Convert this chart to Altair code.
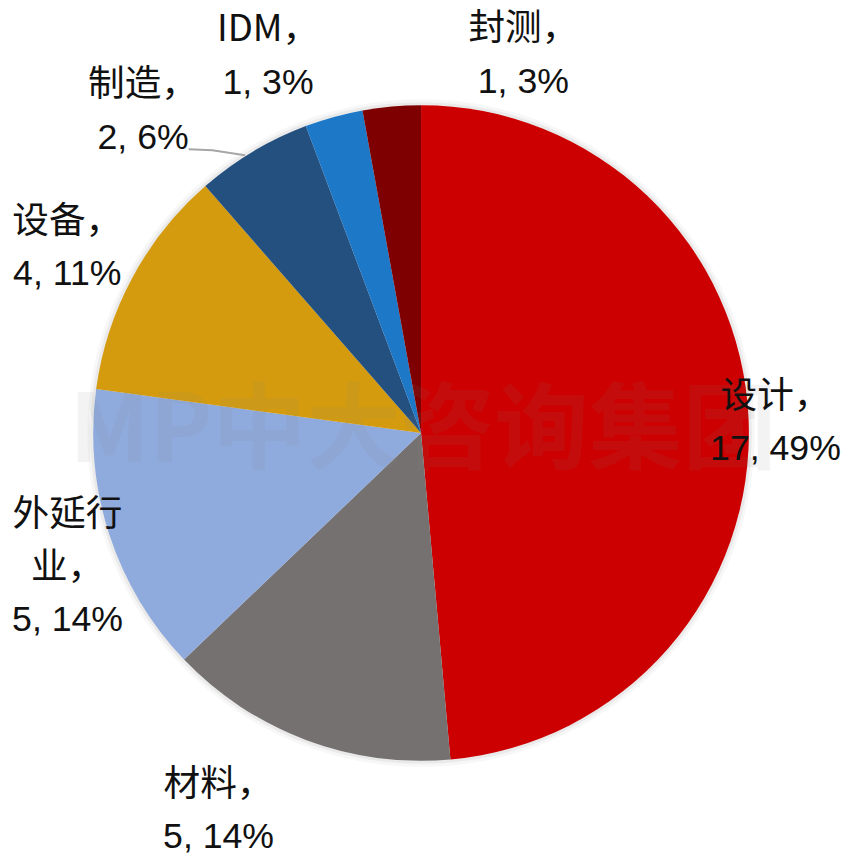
import math
import altair as alt
import pandas as pd

# ---- data -------------------------------------------------------------
NAMES = ["设计", "材料", "外延行业", "设备", "制造", "IDM", "封测"]
VALUES = [17, 5, 5, 4, 2, 1, 1]
COLORS = ["#CC0000", "#767171", "#8FAADC", "#D49B0E", "#245080", "#1E78C8", "#7F0000"]
NAME_LINES = [["设计，"], ["材料，"], ["外延行", "业，"], ["设备，"], ["制造，"], ["IDM，"], ["封测，"]]
WATERMARK = "MP中大咨询集团"

# ---- layout -----------------------------------------------------------
W, H = 841, 852
CX, CY = 417, 425
R = 331
LINE_H = 53
LABEL_NUDGE_DEG = [1.0, 7.6, -2.9, -0.7, -10.0, -6.7, 20.3]
LABEL_RADIUS = [358, 433, 382, 403, 429, 410, 395]
LEADER_FOR = "制造"

total = sum(VALUES)
slices = pd.DataFrame({"name": NAMES, "value": VALUES, "idx": list(range(len(NAMES)))})

rows = []
leader = []
cum = 0
for i, (n, v) in enumerate(zip(NAMES, VALUES)):
    mid = (cum + v / 2) / total * 360
    cum += v
    a = math.radians(mid + LABEL_NUDGE_DEG[i])
    r = LABEL_RADIUS[i]
    lx = CX + r * math.sin(a)
    ly = CY - r * math.cos(a)
    lines = [(t, "name") for t in NAME_LINES[i]] + [(f"{v}, {round(v / total * 100)}%", "value")]
    k = len(lines)
    for j, (t, kind) in enumerate(lines):
        rows.append(dict(text=t, kind=kind, x=lx, y=ly + (j - (k - 1) / 2) * LINE_H))
    if n == LEADER_FOR:
        ea = math.radians(mid - 1.5)
        ex, ey = CX + (R + 1) * math.sin(ea), CY - (R + 1) * math.cos(ea)
        sx, sy = lx + 46, ly + 38
        leader = [dict(o=0, x=sx, y=sy), dict(o=1, x=sx + 24, y=sy + 1), dict(o=2, x=ex, y=ey)]

labels = pd.DataFrame(rows)
leader_df = pd.DataFrame(leader)

shadow_df = pd.DataFrame({"value": [total]})
center = dict(x=alt.value(CX), y=alt.value(CY))

shadow1 = alt.Chart(shadow_df).mark_arc(outerRadius=R + 6, color="#000000", opacity=0.03).encode(
    theta=alt.Theta("value:Q"), **center
)
shadow2 = alt.Chart(shadow_df).mark_arc(outerRadius=R + 3, color="#000000", opacity=0.05).encode(
    theta=alt.Theta("value:Q"), **center
)

pie = alt.Chart(slices).mark_arc(outerRadius=R).encode(
    theta=alt.Theta("value:Q", stack=True),
    color=alt.Color("name:N", scale=alt.Scale(domain=NAMES, range=COLORS), legend=None),
    order=alt.Order("idx:Q"),
    **center,
)

xs = alt.X("x:Q", scale=None, axis=None)
ys = alt.Y("y:Q", scale=None, axis=None)

lead = alt.Chart(leader_df).mark_line(color="#A6A6A6", strokeWidth=2).encode(
    x=xs, y=ys, order="o:Q"
)

name_text = alt.Chart(labels).transform_filter(alt.datum.kind == "name").mark_text(
    font="Noto Sans CJK SC", fontSize=37, color="#111111", align="center", baseline="middle"
).encode(x=xs, y=ys, text="text:N")

value_text = alt.Chart(labels).transform_filter(alt.datum.kind == "value").mark_text(
    font="Liberation Sans Narrow, Liberation Sans", fontSize=36, color="#111111",
    align="center", baseline="middle"
).encode(x=xs, y=ys, text="text:N")

wm = alt.Chart(pd.DataFrame({"t": [WATERMARK]})).mark_text(
    font="Noto Sans CJK SC", fontSize=95, fontWeight="bold", color="#888888", opacity=0.09,
    align="center", baseline="middle"
).encode(text="t:N", x=alt.value(CX + 2), y=alt.value(CY))

chart = alt.layer(shadow1, shadow2, pie, wm, lead, name_text, value_text).properties(
    width=W, height=H, padding=0, autosize=alt.AutoSizeParams(type="none")
).configure_view(stroke=None)

chart.save("out.html", embed_options={"renderer": "svg", "actions": False})
